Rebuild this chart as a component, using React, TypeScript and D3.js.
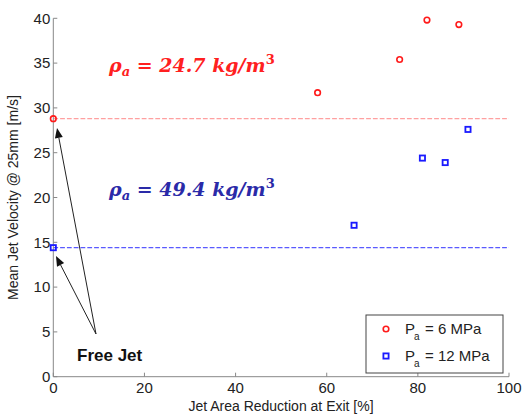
import React from "react";
import * as d3 from "d3";

const redX = [0, 58, 76, 82, 89];
const redY = [28.8, 31.7, 35.4, 39.8, 39.3];
const blueX = [0, 66, 81, 86, 91];
const blueY = [14.4, 16.9, 24.4, 23.9, 27.6];
const xTicks = [0, 20, 40, 60, 80, 100];
const yTicks = [0, 5, 10, 15, 20, 25, 30, 35, 40];
const refRed = 28.8;
const refBlue = 14.4;

export default function App() {
  const W = 522, H = 418;
  const x = d3.scaleLinear().domain([0, 100]).range([53.3, 509]);
  const y = d3.scaleLinear().domain([0, 40]).range([376.7, 18.3]);
  const axisColor = "#888";
  const font = "Arial, 'Liberation Sans', sans-serif";
  const tail = [96, 334];
  const arrow = (tx: number, ty: number) => {
    const dx = tx - tail[0], dy = ty - tail[1];
    const len = Math.hypot(dx, dy);
    const ux = dx / len, uy = dy / len;
    const hl = 10, hw = 4;
    const bx = tx - ux * hl, by = ty - uy * hl;
    const px = -uy, py = ux;
    return (
      <g>
        <line x1={tail[0]} y1={tail[1]} x2={bx} y2={by} stroke="#222" strokeWidth={1} />
        <polygon points={`${tx},${ty} ${bx + px * hw},${by + py * hw} ${bx - px * hw},${by - py * hw}`} fill="#111" />
      </g>
    );
  };
  const rho = (val: string, yy: number, color: string) => (
    <text x={109} y={yy} fontSize={19} fontWeight="bold" fill={color} fontFamily="'DejaVu Serif', serif">
      <tspan fontStyle="italic">ρ</tspan><tspan fontStyle="italic" fontSize={13} dy={4}>a</tspan><tspan dy={-4}> = </tspan><tspan fontStyle="italic">{val} kg/m</tspan><tspan fontSize={13} dy={-8}>3</tspan>
    </text>
  );
  return (
    <svg width={W} height={H} style={{ position: "absolute", left: 0, top: 0, background: "#fff" }} fontFamily={font}>
      {/* reference lines */}
      <line x1={x(0)} x2={x(100)} y1={y(refRed)} y2={y(refRed)} stroke="#ffa0a0" strokeDasharray="4.8,2" strokeWidth={1.2} />
      <line x1={x(0)} x2={x(100)} y1={y(refBlue)} y2={y(refBlue)} stroke="#5a5aff" strokeDasharray="4.8,2" strokeWidth={1.2} />
      {/* axes */}
      <line x1={x(0)} x2={x(0)} y1={y(0)} y2={y(40)} stroke={axisColor} />
      <line x1={x(0)} x2={x(100)} y1={y(0)} y2={y(0)} stroke={axisColor} />
      {yTicks.map((t) => (
        <g key={"y" + t}>
          <line x1={x(0)} x2={x(0) + 4} y1={y(t)} y2={y(t)} stroke={axisColor} />
          <text x={x(0) - 3} y={y(t)} dy="0.35em" textAnchor="end" fontSize={15} fill="#222">{t}</text>
        </g>
      ))}
      {xTicks.map((t) => (
        <g key={"x" + t}>
          <line x1={x(t)} x2={x(t)} y1={y(0)} y2={y(0) - 4} stroke={axisColor} />
          <text x={x(t)} y={y(0) + 16} textAnchor="middle" fontSize={15} fill="#222">{t}</text>
        </g>
      ))}
      <text x={281} y={411} textAnchor="middle" fontSize={14} fill="#222">Jet Area Reduction at Exit [%]</text>
      <text transform={`translate(18,${(y(0) + y(40)) / 2}) rotate(-90)`} textAnchor="middle" fontSize={14} fill="#222">Mean Jet Velocity @ 25mm [m/s]</text>
      {/* annotations */}
      {rho("24.7", 72, "#ff2020")}
      {rho("49.4", 196, "#2a2aa8")}
      {arrow(57, 128)}
      {arrow(56, 256)}
      <text x={77} y={361} fontSize={17} fontWeight="bold" fill="#111">Free Jet</text>
      {/* points */}
      {redX.map((v, i) => (
        <circle key={"r" + i} cx={x(v)} cy={y(redY[i])} r={2.8} fill="none" stroke="#ff1a1a" strokeWidth={1.6} />
      ))}
      {blueX.map((v, i) => (
        <rect key={"b" + i} x={x(v) - 2.6} y={y(blueY[i]) - 2.6} width={5.2} height={5.2} fill="none" stroke="#1a1aff" strokeWidth={1.8} />
      ))}
      {/* legend */}
      <rect x={366} y={315} width={137} height={58} fill="#fff" stroke="#444" strokeWidth={1} />
      <circle cx={386} cy={329} r={2.8} fill="none" stroke="#ff1a1a" strokeWidth={1.6} />
      <text x={405} y={334} fontSize={15} fill="#222">P</text>
      <text x={414} y={340} fontSize={10} fill="#222">a</text>
      <text x={425} y={334} fontSize={15} fill="#222">= 6 MPa</text>
      <rect x={383.4} y={353.4} width={5.2} height={5.2} fill="none" stroke="#1a1aff" strokeWidth={1.8} />
      <text x={405} y={361} fontSize={15} fill="#222">P</text>
      <text x={414} y={367} fontSize={10} fill="#222">a</text>
      <text x={425} y={361} fontSize={15} fill="#222">= 12 MPa</text>
    </svg>
  );
}
